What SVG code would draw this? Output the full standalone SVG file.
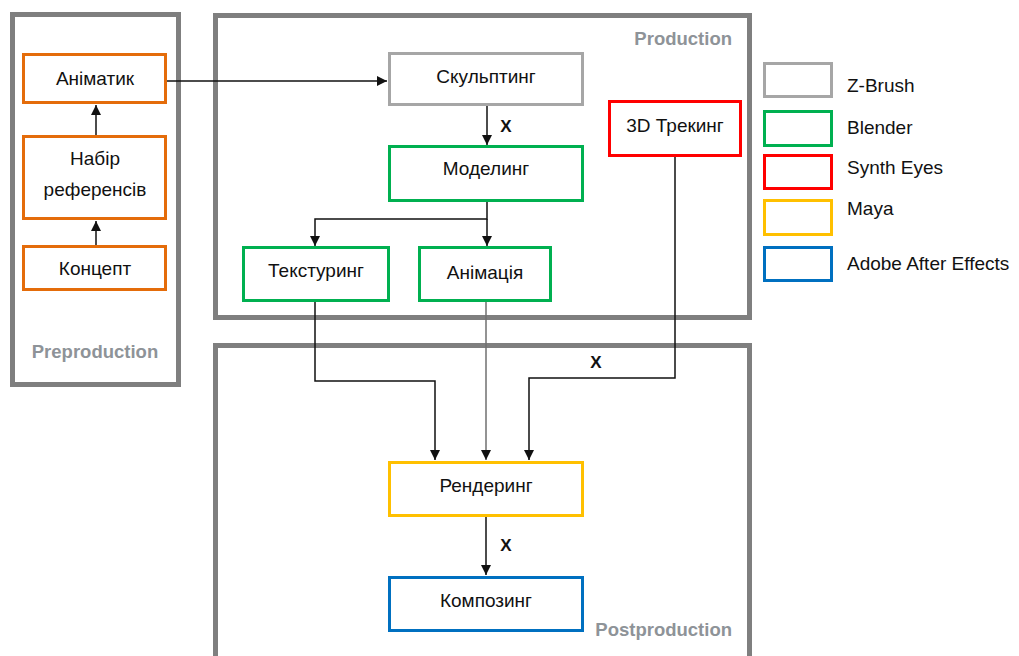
<svg xmlns="http://www.w3.org/2000/svg" width="1019" height="656" viewBox="0 0 1019 656">
<style>
.cont{fill:#fff;stroke:#7f7f7f;stroke-width:5}
.node{fill:#fff;stroke-width:3}
.t{font-family:"Liberation Sans",Arial,sans-serif;font-size:19px;fill:#111;text-anchor:middle}
.lg{font-family:"Liberation Sans",Arial,sans-serif;font-size:19px;fill:#111}
.stage{font-family:"Liberation Sans",Arial,sans-serif;font-size:18.5px;font-weight:bold;fill:#8e9398}
.x{font-family:"Liberation Sans",Arial,sans-serif;font-size:17px;font-weight:bold;fill:#111;text-anchor:middle}
.c{fill:none;stroke:#111;stroke-width:1.5}
.orange{stroke:#e46c0a}.gray{stroke:#a6a6a6}.green{stroke:#00b050}.red{stroke:#ff0000}.yellow{stroke:#ffc000}.blue{stroke:#0070c0}
</style>
<defs>
<marker id="ah" markerUnits="userSpaceOnUse" markerWidth="10" markerHeight="10" viewBox="0 0 10 10" refX="10" refY="5" orient="auto">
<path d="M0,0 L10,5 L0,10 z" fill="#111"/>
</marker>
</defs>
<rect width="1019" height="656" fill="#fff"/>
<g id="preproduction">
<rect class="cont" x="12.5" y="14.5" width="166" height="370"/>
<text class="stage" x="95" y="358" text-anchor="middle">Preproduction</text>
</g>
<g id="production">
<rect class="cont" x="215.5" y="15.5" width="534" height="302"/>
<text class="stage" x="732" y="45" text-anchor="end">Production</text>
</g>
<g id="postproduction">
<rect class="cont" x="215.5" y="345.5" width="534" height="330"/>
<text class="stage" x="732" y="636" text-anchor="end">Postproduction</text>
</g>
<g id="connectors">
<path class="c" d="M96,135 V105" marker-end="url(#ah)"/>
<path class="c" d="M96,245 V221" marker-end="url(#ah)"/>
<path class="c" d="M167,81 H387" marker-end="url(#ah)"/>
<path class="c" d="M487,106 V145" marker-end="url(#ah)"/>
<path class="c" d="M487,202 V219 H315 V246" marker-end="url(#ah)"/>
<path class="c" d="M487,219 V246" marker-end="url(#ah)"/>
<path class="c" d="M315,302 V381 H435 V460" marker-end="url(#ah)"/>
<path class="c" style="stroke:#6f6f6f" d="M486,302 V460" marker-end="url(#ah)"/>
<path class="c" d="M675,157 V378 H529 V460" marker-end="url(#ah)"/>
<path class="c" d="M486,517 V575" marker-end="url(#ah)"/>
<text class="x" x="506" y="132">X</text>
<text class="x" x="596" y="368">X</text>
<text class="x" x="506" y="551">X</text>
</g>
<g id="animatic"><rect class="node orange" x="23.5" y="54.5" width="142" height="48"/><text class="t" x="95" y="85">Аніматик</text></g>
<g id="references"><rect class="node orange" x="23.5" y="136.5" width="142" height="82"/><text class="t" x="95" y="165">Набір</text><text class="t" x="95" y="196">референсів</text></g>
<g id="concept"><rect class="node orange" x="23.5" y="246.5" width="142" height="43"/><text class="t" x="95" y="275">Концепт</text></g>
<g id="sculpting"><rect class="node gray" x="389.5" y="53.5" width="193" height="51"/><text class="t" x="486" y="83">Скульптинг</text></g>
<g id="modeling"><rect class="node green" x="389.5" y="146.5" width="193" height="54"/><text class="t" x="486" y="175">Моделинг</text></g>
<g id="tracking"><rect class="node red" x="609.5" y="101.5" width="131" height="54"/><text class="t" x="675" y="132">3D Трекинг</text></g>
<g id="texturing"><rect class="node green" x="243.5" y="247.5" width="145" height="53"/><text class="t" x="316" y="277">Текстуринг</text></g>
<g id="animation"><rect class="node green" x="419.5" y="247.5" width="131" height="53"/><text class="t" x="485" y="279">Анімація</text></g>
<g id="rendering"><rect class="node yellow" x="389.5" y="462.5" width="193" height="53"/><text class="t" x="486" y="492">Рендеринг</text></g>
<g id="compositing"><rect class="node blue" x="389.5" y="577.5" width="193" height="53"/><text class="t" x="486" y="607">Композинг</text></g>
<g id="legend">
<rect class="node gray" x="764.5" y="63.5" width="67" height="33"/><text class="lg" x="847" y="92">Z-Brush</text>
<rect class="node green" x="764.5" y="111.5" width="67" height="34"/><text class="lg" x="847" y="134">Blender</text>
<rect class="node red" x="764.5" y="155.5" width="67" height="33"/><text class="lg" x="847" y="174">Synth Eyes</text>
<rect class="node yellow" x="764.5" y="200.5" width="67" height="34"/><text class="lg" x="847" y="215">Maya</text>
<rect class="node blue" x="764.5" y="247.5" width="67" height="33"/><text class="lg" x="847" y="270">Adobe After Effects</text>
</g>
</svg>
